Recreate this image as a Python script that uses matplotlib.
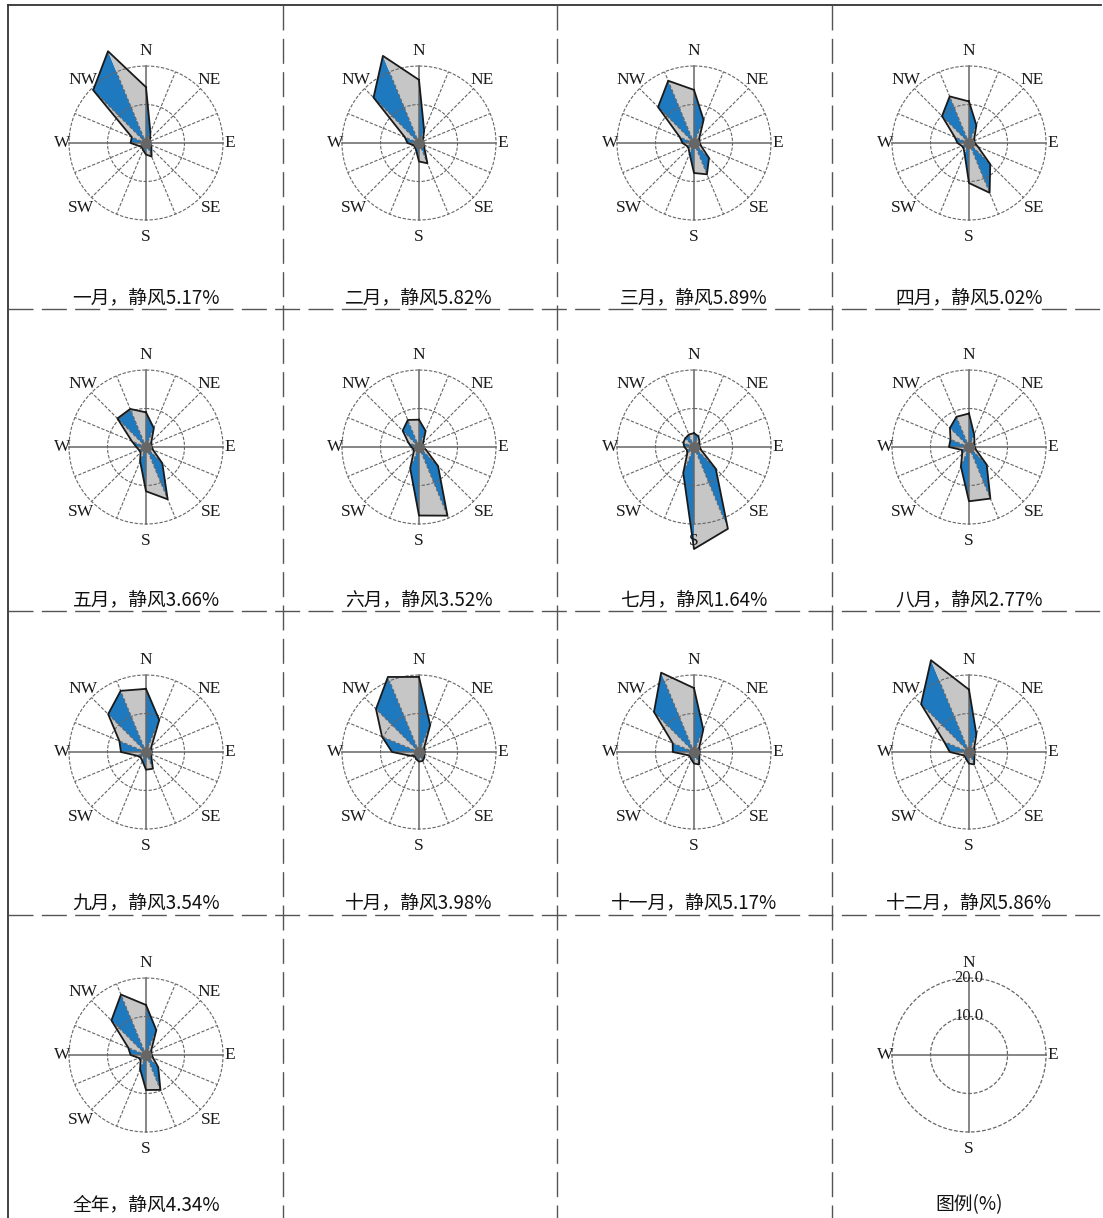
import matplotlib.pyplot as plt
import numpy as np

plt.rcParams['font.family'] = ['Noto Sans CJK SC', 'DejaVu Sans']

# 16 directions, clockwise from north
directions = ['N', 'NNE', 'NE', 'ENE', 'E', 'ESE', 'SE', 'SSE',
              'S', 'SSW', 'SW', 'WSW', 'W', 'WNW', 'NW', 'NNW']

names = ['一月', '二月', '三月', '四月', '五月', '六月', '七月', '八月',
         '九月', '十月', '十一月', '十二月', '全年']
calm = [5.17, 5.82, 5.89, 5.02, 3.66, 3.52, 1.64, 2.77,
        3.54, 3.98, 5.17, 5.86, 4.34]

# wind direction frequency (%)
jan = [14.5, 3, 1.5, 1, 1, 1.5, 2, 3.8, 3, 2, 1.5, 2, 4, 4, 19.4, 25.8]
feb = [16.4, 3.5, 1.5, 1, 1, 1.5, 2, 5.7, 4.8, 2, 1.5, 1.5, 3, 4, 16.7, 24.5]
mar = [13.8, 6.5, 2, 1.5, 1.5, 2, 5.5, 8.8, 7.8, 3, 2, 2, 3, 4, 13.2, 17.5]
apr = [10.8, 5, 2, 1.5, 1.5, 2.5, 7.8, 14, 10.4, 3, 2, 2, 3, 4, 9.9, 13.1]
may = [9, 5.3, 2, 1.5, 1.5, 2, 6, 14.7, 11.5, 4, 2, 2, 2.5, 4, 10.5, 10.7]
jun = [7.1, 4.5, 1.5, 1, 1, 2, 7, 19.3, 17.8, 6, 2, 1.5, 2, 3, 6, 7.6]
jul = [3.6, 3, 2, 1.5, 1.5, 2, 8, 23, 26.5, 7.3, 2.5, 2, 2.5, 3, 3.2, 3.5]
aug = [8.7, 3.5, 2, 1.5, 1.5, 2, 6.5, 14.5, 14.1, 5.5, 2.5, 2, 5.2, 5.2, 7, 8.5]
sep = [16.4, 9, 2, 1.5, 1.5, 1.5, 2, 4.7, 4.6, 2.5, 2, 2.5, 6.5, 7.5, 13.9, 17.2]
oct_ = [19.5, 7.6, 2, 1.5, 1.5, 1.5, 2, 2.5, 2.5, 2, 1.5, 2.5, 7, 10.4, 15.8, 21.1]
nov = [16.6, 6.3, 2, 1.5, 1.5, 1.5, 2, 3.5, 3, 2, 1.5, 2, 5.5, 6, 14.7, 22.3]
dec = [16.2, 5, 2, 1.5, 1.5, 1.5, 2, 3.5, 3, 2, 1.5, 2, 5, 7, 17.6, 25.8]
annual = [13, 7, 2, 1.5, 1.5, 2, 4.5, 9.8, 9.1, 4, 2, 2, 4, 5, 12.7, 17]

roses = [jan, feb, mar, apr, may, jun, jul, aug, sep, oct_, nov, dec, annual]

ring_levels = [10, 20]

W, H = 1103, 1218
fig = plt.figure(figsize=(W / 100, H / 100), dpi=100)

# background layer for the table lines, in pixel coords
bg = fig.add_axes([0, 0, 1, 1], zorder=-1)
bg.set_xlim(0, W)
bg.set_ylim(H, 0)
bg.axis('off')
bg.plot([8, 8], [5, H], color='#333333', lw=1.3)
bg.plot([8, 1101], [5, 5], color='#333333', lw=1.3)
for x in [283, 557, 832]:
    bg.plot([x, x], [5, H], color='#555555', lw=1, ls=(0, (18, 6)))
for y in [309, 611, 915]:
    bg.plot([8, W], [y, y], color='#555555', lw=1, ls=(0, (18, 6)))

cx = [146, 419, 694, 969]
cy = [143, 447, 752, 1055]
label_y = [298, 600, 903, 1205]
px_per_pct = 3.85
rmax = 28
half = rmax * px_per_pct

theta = np.deg2rad(np.arange(16) * 22.5)
circle = np.linspace(0, 2 * np.pi, 361)

blue = '#1f79bf'
grey = '#c6c6c6'
gridc = '#666666'
serif = 'Liberation Serif'

def make_ax(col, row):
    ax = fig.add_axes([(cx[col] - half) / W, (H - cy[row] - half) / H,
                       2 * half / W, 2 * half / H], projection='polar')
    ax.set_theta_zero_location('N')
    ax.set_theta_direction(-1)
    ax.set_ylim(0, rmax)
    ax.axis('off')
    return ax

def compass(ax, labels):
    pos = {'N': (0, 24), 'NE': (45, 23), 'E': (90, 21.8), 'SE': (135, 24),
           'S': (180, 24.5), 'SW': (225, 24), 'W': (270, 21.8), 'NW': (315, 23)}
    for lab in labels:
        ang, r = pos[lab]
        ax.text(np.deg2rad(ang), r, lab, ha='center', va='center',
                family=serif, fontsize=12.5, color='#1a1a1a', zorder=6)

for k, vals in enumerate(roses):
    row, col = divmod(k, 4)
    ax = make_ax(col, row)
    r = np.array(vals)
    # alternating shaded triangles between neighbouring directions
    for i in range(16):
        j = (i + 1) % 16
        ax.fill([0, theta[i], theta[j]], [0, r[i], r[j]],
                color=blue if i % 2 == 0 else grey, lw=0, zorder=2)
    ax.plot(np.append(theta, theta[0]), np.append(r, r[0]),
            color='#1a1a1a', lw=1.3, zorder=4)
    # grid
    for lev in ring_levels:
        ax.plot(circle, np.full_like(circle, lev), color=gridc, lw=0.8,
                ls=(0, (3, 1.5)), zorder=3)
    for i, t in enumerate(theta):
        if i % 4 == 0:
            ax.plot([t, t], [0, 20], color=gridc, lw=1.1, zorder=3)
        else:
            ax.plot([t, t], [0, 20], color=gridc, lw=0.8,
                    ls=(0, (3, 1.5)), zorder=3)
    ax.plot([0], [0], 'o', ms=7, color='#666666', zorder=5)
    compass(ax, ['N', 'NE', 'E', 'SE', 'S', 'SW', 'W', 'NW'])
    bg.text(cx[col], label_y[row], f'{names[k]}，静风{calm[k]:.2f}%',
            ha='center', va='center', fontsize=13.5, color='#111111')

# legend rose
ax = make_ax(3, 3)
for lev in ring_levels:
    ax.plot(circle, np.full_like(circle, lev), color=gridc, lw=0.9,
            ls=(0, (3, 1.5)), zorder=3)
    ax.text(0, lev, f'{lev:.1f}', ha='center', va='center',
            family=serif, fontsize=12, color='#222222', zorder=6)
for t in theta[::4]:
    ax.plot([t, t], [0, 20], color=gridc, lw=1.1, zorder=3)
compass(ax, ['N', 'E', 'S', 'W'])
bg.text(cx[3], label_y[3], '图例(%)', ha='center', va='center',
        fontsize=13.5, color='#111111')

fig.savefig('out.png', dpi=100)
